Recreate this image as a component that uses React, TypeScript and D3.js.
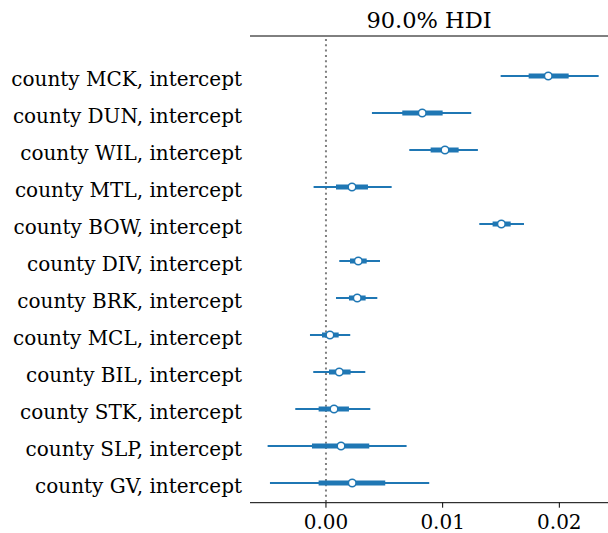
import React from "react";
import * as d3 from "d3";

const labels = [
  "county MCK, intercept",
  "county DUN, intercept",
  "county WIL, intercept",
  "county MTL, intercept",
  "county BOW, intercept",
  "county DIV, intercept",
  "county BRK, intercept",
  "county MCL, intercept",
  "county BIL, intercept",
  "county STK, intercept",
  "county SLP, intercept",
  "county GV, intercept",
];
const hdiLow = [0.01497, 0.00394, 0.00714, -0.00106, 0.01314, 0.00114, 0.00086, -0.00137, -0.00109, -0.00263, -0.005, -0.0048];
const hdiHigh = [0.02337, 0.01245, 0.01302, 0.00563, 0.01697, 0.00463, 0.0044, 0.00208, 0.00337, 0.0038, 0.00691, 0.00885];
const q1 = [0.01737, 0.00654, 0.00897, 0.00086, 0.01428, 0.00206, 0.00197, -0.00034, 0.00026, -0.00063, -0.0012, -0.00063];
const q3 = [0.0208, 0.01, 0.01137, 0.0036, 0.01583, 0.00349, 0.0034, 0.00109, 0.00211, 0.00197, 0.00371, 0.00508];
const medians = [0.01905, 0.00825, 0.0102, 0.00223, 0.01503, 0.00277, 0.00268, 0.00034, 0.00114, 0.00069, 0.00129, 0.00225];
const xTicks = [0.0, 0.01, 0.02];
const title = "90.0% HDI";

export default function App() {
  const W = 608, H = 533;
  const left = 250, right = 608, top = 36, bottom = 502.7;
  const x = d3.scaleLinear().domain([-0.00651, 0.02417]).range([left, right]);
  const y = d3.scalePoint<string>().domain(labels).range([76, 483]);
  const blue = "#1f77b4";
  const font = "'DejaVu Serif', serif";
  return (
    <svg width={W} height={H} style={{ position: "absolute", left: 0, top: 0, background: "#fff" }}>
      <rect width={W} height={H} fill="#fff" />
      <text x={(left + right) / 2} y={28} textAnchor="middle" fontFamily={font} fontSize={22.5} fill="#000">
        {title}
      </text>
      <line x1={left} x2={right} y1={top} y2={top} stroke="#000" strokeWidth={1} />
      <line x1={left} x2={right} y1={bottom} y2={bottom} stroke="#000" strokeWidth={1} />
      <line x1={x(0)} x2={x(0)} y1={top + 3} y2={bottom} stroke="#808080" strokeWidth={2} strokeDasharray="2,3.3" />
      {xTicks.map((t) => (
        <g key={t}>
          <line x1={x(t)} x2={x(t)} y1={bottom} y2={bottom + 5} stroke="#000" strokeWidth={1} />
          <text x={x(t)} y={bottom + 26} textAnchor="middle" fontFamily={font} fontSize={20} fill="#000">
            {d3.format(".2f")(t)}
          </text>
        </g>
      ))}
      {labels.map((l, i) => {
        const cy = y(l) as number;
        return (
          <g key={l}>
            <text x={242} y={cy + 10} textAnchor="end" fontFamily={font} fontSize={20} fill="#000">
              {l}
            </text>
            <line x1={x(hdiLow[i])} x2={x(hdiHigh[i])} y1={cy} y2={cy} stroke={blue} strokeWidth={2} />
            <line x1={x(q1[i])} x2={x(q3[i])} y1={cy} y2={cy} stroke={blue} strokeWidth={5} />
            <circle cx={x(medians[i])} cy={cy} r={3.8} fill="#fff" stroke={blue} strokeWidth={1.5} />
          </g>
        );
      })}
    </svg>
  );
}
